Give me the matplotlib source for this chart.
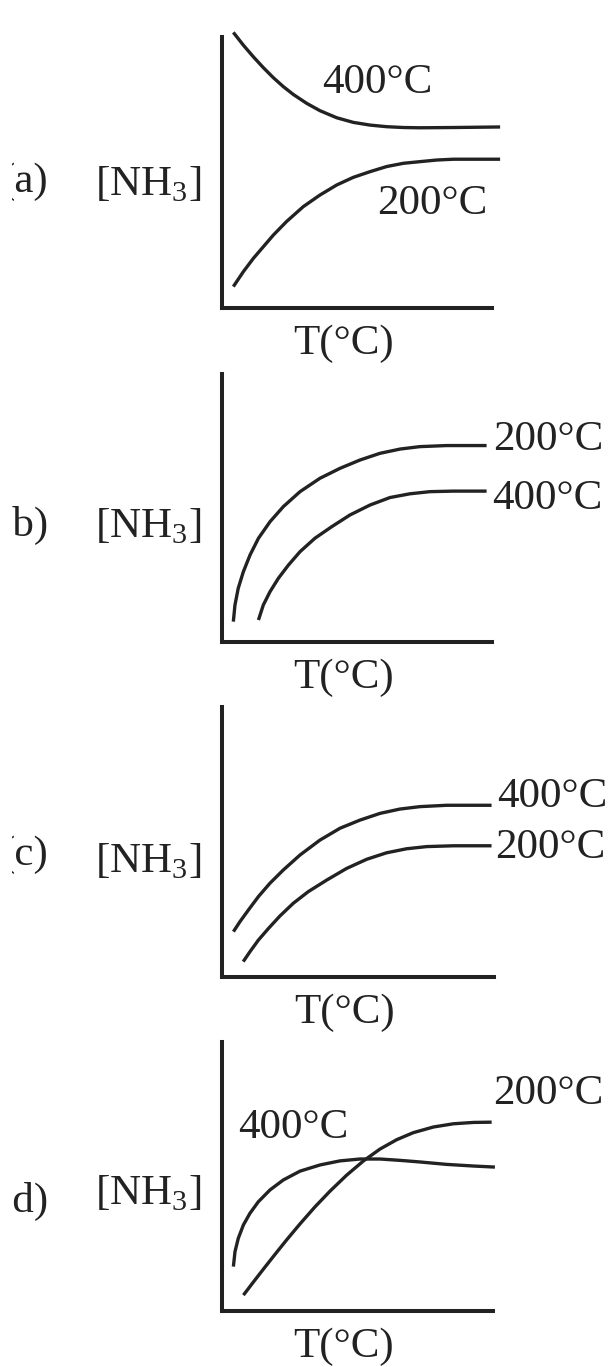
import matplotlib
matplotlib.use("Agg")
import matplotlib.pyplot as plt
from matplotlib.transforms import Bbox, TransformedBbox

plt.rcParams['font.family'] = ['Liberation Serif', 'DejaVu Serif']
plt.rcParams['mathtext.fontset'] = 'custom'
plt.rcParams['mathtext.rm'] = 'Liberation Serif'

W, H = 616, 1367
INK = '#222222'
FS = 31

# panel letters and axis texts
panels = ['(a)', '(b)', '(c)', '(d)']
ylabel = '[NH$_\\mathrm{3}$]'
xlabel = 'T(°C)'

# curves per panel, x and y in percent of the axis box (T, [NH3])
a_400_x = [4.2, 7.9, 11.6, 15.3, 19.0, 22.7, 26.4, 31.4, 36.3, 42.5, 48.6, 54.8, 61.0, 67.2, 73.3, 85.7, 103.0]
a_400_y = [101.7, 97.0, 92.7, 88.7, 85.0, 81.7, 78.8, 75.5, 72.8, 70.2, 68.5, 67.5, 66.9, 66.6, 66.5, 66.6, 66.8]
a_200_x = [4.2, 7.9, 11.6, 15.3, 19.0, 23.9, 30.1, 36.3, 42.5, 48.6, 54.8, 61.0, 67.2, 73.3, 79.5, 85.7, 103.0]
a_200_y = [7.9, 13.4, 18.3, 22.6, 26.9, 31.9, 37.4, 41.7, 45.4, 48.2, 50.3, 52.2, 53.4, 54.0, 54.6, 54.9, 54.9]

b_200_x = [4.2, 4.8, 6.0, 7.9, 10.4, 13.5, 17.8, 22.7, 28.9, 36.3, 43.7, 51.1, 58.5, 66.0, 73.3, 83.2, 98.0]
b_200_y = [7.6, 13.8, 20.0, 26.2, 32.5, 38.7, 44.9, 50.5, 56.1, 61.1, 64.8, 67.9, 70.4, 72.0, 72.9, 73.3, 73.3]
b_400_x = [13.5, 15.3, 17.8, 20.9, 24.6, 28.9, 34.4, 40.6, 47.4, 54.8, 62.2, 69.6, 77.0, 85.7, 98.0]
b_400_y = [8.2, 13.8, 18.8, 23.8, 28.7, 33.7, 38.7, 43.0, 47.4, 51.1, 53.9, 55.3, 56.1, 56.3, 56.3]

c_400_x = [4.2, 6.6, 9.7, 13.4, 17.6, 22.5, 28.7, 36.0, 43.4, 50.7, 58.1, 65.4, 72.8, 82.6, 99.1]
c_400_y = [16.8, 20.5, 24.8, 29.8, 34.7, 39.6, 45.2, 50.7, 55.1, 58.1, 60.6, 62.2, 63.1, 63.6, 63.6]
c_200_x = [7.8, 10.3, 13.4, 17.1, 21.3, 26.2, 31.7, 38.5, 45.8, 53.2, 60.5, 67.9, 75.3, 85.1, 99.1]
c_200_y = [5.7, 9.4, 13.7, 18.0, 22.6, 27.3, 31.6, 35.9, 40.2, 43.6, 46.0, 47.5, 48.3, 48.6, 48.6]

d_400_x = [4.2, 4.8, 6.0, 7.9, 10.3, 13.4, 17.7, 22.6, 28.8, 36.2, 43.5, 50.9, 58.3, 65.7, 73.1, 82.9, 92.7, 100.7]
d_400_y = [16.5, 22.1, 27.0, 32.0, 36.3, 40.6, 45.0, 48.7, 52.0, 54.3, 55.8, 56.5, 56.5, 56.0, 55.4, 54.5, 53.9, 53.5]
d_200_x = [7.9, 11.6, 15.3, 19.6, 23.9, 28.8, 34.3, 39.9, 46.0, 52.2, 58.3, 64.5, 70.6, 78.0, 85.4, 92.8, 99.5]
d_200_y = [5.9, 10.8, 15.6, 21.1, 26.5, 32.4, 38.7, 44.6, 50.5, 55.8, 60.2, 63.7, 66.3, 68.4, 69.6, 70.1, 70.2]

curves = [
    [(a_400_x, a_400_y), (a_200_x, a_200_y)],
    [(b_200_x, b_200_y), (b_400_x, b_400_y)],
    [(c_400_x, c_400_y), (c_200_x, c_200_y)],
    [(d_400_x, d_400_y), (d_200_x, d_200_y)],
]

# curve labels: text, x, y (percent of axis box)
curve_labels = [
    [('400°C', 36.9, 83.2), ('200°C', 57.3, 38.6)],
    [('200°C', 100.5, 75.4), ('400°C', 100.0, 53.6)],
    [('400°C', 101.0, 66.8), ('200°C', 100.3, 47.7)],
    [('200°C', 100.0, 80.9), ('400°C', 6.0, 68.2)],
]

# axis boxes in pixels: left, right, top, bottom
boxes = [(222, 492, 37, 308), (222, 492, 374, 642), (222, 494, 707, 977), (222, 493, 1042, 1311)]
letter_base = [192, 536, 865, 1212]
nh3_base = [195, 537, 872, 1204]

fig = plt.figure(figsize=(W / 100, H / 100), dpi=100)
clip = TransformedBbox(Bbox([[12 / W, 0], [1, 1]]), fig.transFigure)

for i in range(4):
    l, r, t, b = boxes[i]
    ax = fig.add_axes([l / W, 1 - b / H, (r - l) / W, (b - t) / H])
    ax.set_xlim(0, 100)
    ax.set_ylim(0, 100)
    for s in ['top', 'right']:
        ax.spines[s].set_visible(False)
    for s in ['left', 'bottom']:
        ax.spines[s].set_linewidth(2.9)
        ax.spines[s].set_color(INK)
        ax.spines[s].set_capstyle('projecting')
    ax.set_xticks([])
    ax.set_yticks([])
    ax.patch.set_visible(False)

    for xs, ys in curves[i]:
        ax.plot(xs, ys, color=INK, lw=2.4, clip_on=False, solid_capstyle='butt', solid_joinstyle='round')
    for txt, x, y in curve_labels[i]:
        ax.text(x, y, txt, fontsize=FS, color=INK, ha='left', va='center')

    ax.set_xlabel(xlabel, fontsize=FS, color=INK)
    ax.xaxis.set_label_coords(0.45, -0.06)

    t1 = fig.text(48 / W, 1 - letter_base[i] / H, panels[i], fontsize=FS, color=INK, ha='right', va='baseline')
    t1.set_clip_box(clip)
    fig.text(201 / W, 1 - nh3_base[i] / H, ylabel, fontsize=FS, color=INK, ha='right', va='baseline')

fig.savefig('out.png', dpi=100, facecolor='white')
